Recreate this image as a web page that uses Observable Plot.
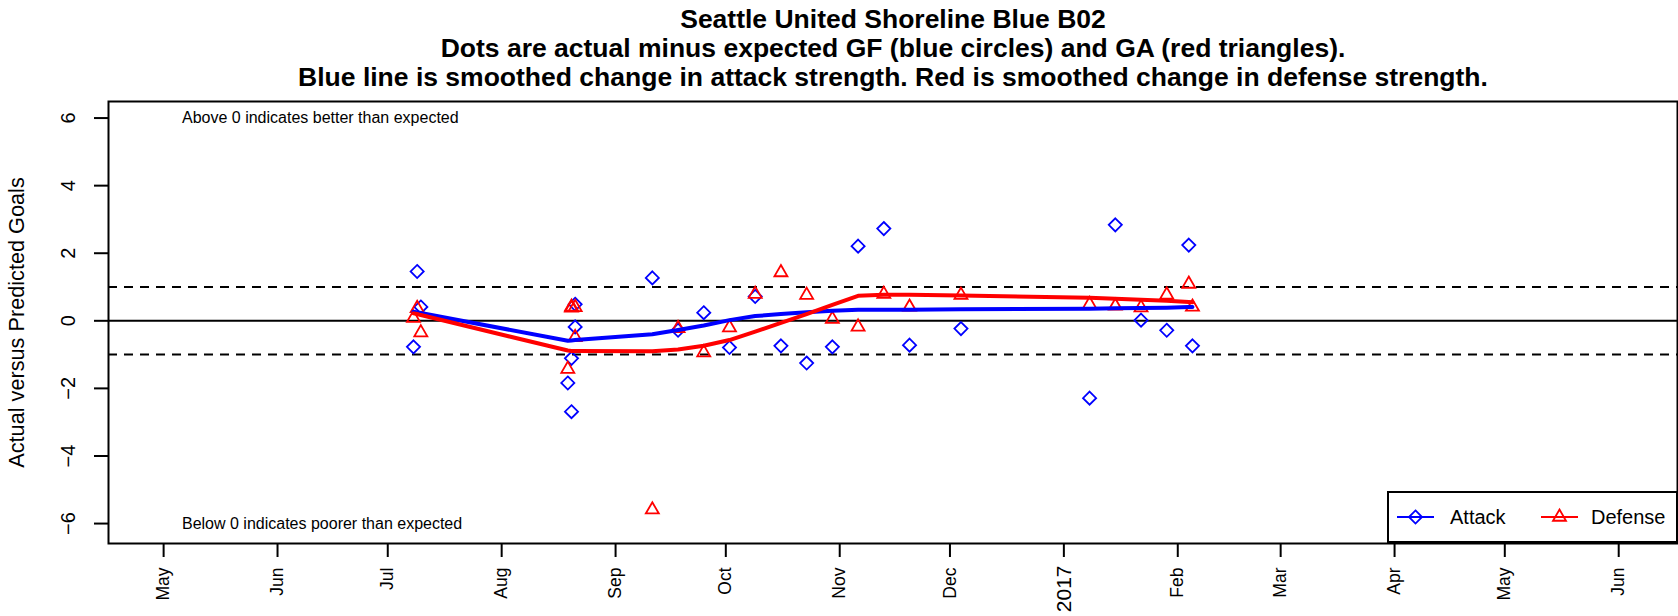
<!DOCTYPE html>
<html><head><meta charset="utf-8">
<script src="https://cdn.jsdelivr.net/npm/d3@7"></script>
<script src="https://cdn.jsdelivr.net/npm/@observablehq/plot@0.6"></script>
<style>
body{margin:0;background:#fff;font-family:"Liberation Sans",Arial,Helvetica,sans-serif;}
#wrap{position:relative;width:1678px;height:616px;overflow:hidden;background:#fff}
#title{position:absolute;left:108px;width:1570px;top:5px;text-align:center;font-weight:bold;font-size:26.5px;line-height:29px;color:#000;white-space:nowrap}
#chart{position:absolute;left:0;top:100px;}
#legend{position:absolute;left:1387px;top:491px;}
</style></head><body>
<div id="wrap">
<div id="title">Seattle United Shoreline Blue B02<br>Dots are actual minus expected GF (blue circles) and GA (red triangles).<br>Blue line is smoothed change in attack strength. Red is smoothed change in defense strength.</div>
<div id="chart"></div>
<svg id="legend" width="291" height="52"></svg>
</div>
<script>
// games: one blue (attack) and one red (defense) value per game
const gameDates = ["2016-07-08","2016-07-09","2016-07-10","2016-08-19","2016-08-20","2016-08-20","2016-08-21","2016-08-21","2016-09-11","2016-09-18","2016-09-25","2016-10-02","2016-10-09","2016-10-16","2016-10-23","2016-10-30","2016-11-06","2016-11-13","2016-11-20","2016-12-04","2017-01-08","2017-01-15","2017-01-22","2017-01-29","2017-02-04","2017-02-05"];
const attackDiff = [-0.77,1.46,0.41,-1.84,-1.11,-2.69,0.49,-0.18,1.27,-0.28,0.24,-0.79,0.72,-0.74,-1.25,-0.77,2.21,2.73,-0.72,-0.23,-2.29,2.84,0.02,-0.28,2.24,-0.74];
const defenseDiff = [0.08,0.37,-0.35,-1.43,0.38,0.41,0.40,-0.49,-5.59,-0.22,-0.94,-0.20,0.79,1.43,0.76,0.05,-0.18,0.79,0.41,0.76,0.49,0.44,0.39,0.77,1.09,0.41];

// smoothed strength changes
const smoothDates = ["2016-07-08","2016-07-09","2016-07-10","2016-08-19","2016-08-20","2016-08-21","2016-09-11","2016-09-18","2016-09-25","2016-10-02","2016-10-09","2016-10-16","2016-10-23","2016-10-30","2016-11-06","2016-11-13","2016-11-20","2016-12-04","2017-01-08","2017-01-15","2017-01-22","2017-01-29","2017-02-04","2017-02-05"];
const attackSmooth = [0.27,0.25,0.23,-0.59,-0.58,-0.57,-0.40,-0.27,-0.14,0.02,0.14,0.20,0.25,0.30,0.33,0.33,0.33,0.34,0.36,0.37,0.38,0.39,0.41,0.41];
const defenseSmooth = [0.22,0.20,0.17,-0.88,-0.89,-0.89,-0.90,-0.85,-0.74,-0.57,-0.32,-0.06,0.20,0.47,0.74,0.77,0.77,0.75,0.68,0.65,0.62,0.59,0.56,0.55];

// axis ticks and annotations
const yTicks = [-6,-4,-2,0,2,4,6];
const yLabel = "Actual versus Predicted Goals";
const xDomain = ["2016-04-16","2017-06-17"];
const monthTickDates = ["2016-05-01","2016-06-01","2016-07-01","2016-08-01","2016-09-01","2016-10-01","2016-11-01","2016-12-01","2017-02-01","2017-03-01","2017-04-01","2017-05-01","2017-06-01"];
const yearTickDates = ["2017-01-01"];
const refSolid = [0];
const refDashed = [-1, 1];
const noteTexts = ["Above 0 indicates better than expected","Below 0 indicates poorer than expected"];
const noteDates = ["2016-05-06","2016-05-06"];
const noteY = [6,-6];
const legendLabels = ["Attack","Defense"];

const FONT = '"Liberation Sans", Arial, Helvetica, sans-serif';
const BLUE = "#0000FF", RED = "#FF0000";
const rDiamond = 5.9, rTriangle = 6.2;

const games = gameDates.map((d,i)=>({date:new Date(d), attack:attackDiff[i], defense:defenseDiff[i]}));
const smooth = smoothDates.map((d,i)=>({date:new Date(d), attack:attackSmooth[i], defense:defenseSmooth[i]}));
const notes = noteTexts.map((t,i)=>({text:t, date:new Date(noteDates[i]), y:noteY[i]}));

const chart = Plot.plot({
  width: 1678, height: 516,
  marginTop: 1, marginBottom: 73, marginLeft: 108, marginRight: 1,
  style: {fontFamily: FONT, background: "white", color: "black"},
  x: {type: "utc", domain: xDomain.map(d=>new Date(d))},
  y: {domain: [-6.59, 6.49]},
  marks: [
    Plot.ruleY(refSolid, {stroke: "black", strokeWidth: 2}),
    Plot.ruleY(refDashed, {stroke: "black", strokeWidth: 2, strokeDasharray: "9,7"}),
    Plot.dot(games, {x: "date", y: "attack", symbol: "diamond2", r: rDiamond, stroke: BLUE, strokeWidth: 1.8}),
    Plot.dot(games, {x: "date", y: "defense", symbol: "triangle2", r: rTriangle, stroke: RED, strokeWidth: 1.8}),
    Plot.line(smooth, {x: "date", y: "attack", stroke: BLUE, strokeWidth: 4}),
    Plot.line(smooth, {x: "date", y: "defense", stroke: RED, strokeWidth: 4}),
    Plot.text(notes, {x: "date", y: "y", text: "text", textAnchor: "start", fontSize: 16, fill: "black"}),
    Plot.axisY(yTicks, {tickSize: 14, tickRotate: -90, tickPadding: 20, fontSize: 20, strokeWidth: 2,
      tickFormat: d => d < 0 ? "\u2212" + Math.abs(d) : String(d), label: null}),
    Plot.text([yLabel], {frameAnchor: "left", textAnchor: "middle", lineAnchor: "middle", rotate: -90, dx: -91, fontSize: 21.7, fill: "black"}),
    Plot.axisX(monthTickDates.map(d=>new Date(d)), {tickSize: 14, tickPadding: 10, tickRotate: -90, fontSize: 17.5, strokeWidth: 2,
      tickFormat: d3.utcFormat("%b"), label: null}),
    Plot.axisX(yearTickDates.map(d=>new Date(d)), {tickSize: 14, tickPadding: 8, tickRotate: -90, fontSize: 21, strokeWidth: 2,
      tickFormat: d3.utcFormat("%Y"), label: null}),
    Plot.frame({stroke: "black", strokeWidth: 2})
  ]
});
document.getElementById("chart").appendChild(chart);

// legend box (bottom-right inside the plot)
const lg = d3.select("#legend");
lg.append("rect").attr("x",1).attr("y",1).attr("width",289).attr("height",50).attr("fill","white").attr("stroke","black").attr("stroke-width",2);
const items = [
  {label: legendLabels[0], color: BLUE, sym: d3.symbolDiamond2, r: rDiamond, x0: 10, x1: 47, tx: 63},
  {label: legendLabels[1], color: RED, sym: d3.symbolTriangle2, r: rTriangle, x0: 154, x1: 191, tx: 204}
];
for (const it of items) {
  lg.append("line").attr("x1",it.x0).attr("x2",it.x1).attr("y1",26).attr("y2",26).attr("stroke",it.color).attr("stroke-width",1.8);
  lg.append("path").attr("d", d3.symbol(it.sym, Math.PI*it.r*it.r)()).attr("transform",`translate(${(it.x0+it.x1)/2},26)`)
    .attr("fill","none").attr("stroke",it.color).attr("stroke-width",1.8);
  lg.append("text").attr("x",it.tx).attr("y",26).attr("dy","0.35em").attr("font-family",FONT).attr("font-size",20).text(it.label);
}
</script>
</body></html>
